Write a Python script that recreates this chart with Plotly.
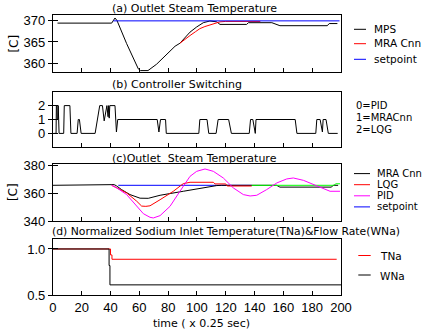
import plotly.graph_objects as go

W, H = 428, 335
FONT = "DejaVu Sans"
TICKFONT = "Liberation Sans"

# ---------------- data ----------------
# (a) Outlet steam temperature
a_mps_t = [3.2, 40.8, 43.1, 44.5, 51.2, 56.0, 59.3, 60.8, 66.0, 72.0, 77.8, 84.8, 88.2, 95.2, 99.8,
           104.4, 109.0, 113.7, 116.0, 134.5, 135.7, 152.0, 157.6, 190.5, 191.8, 197.5]
a_mps_v = [369.4, 369.4, 370.6, 370.0, 364.6, 361.2, 358.7, 358.3, 358.3, 359.8, 361.8, 364.0, 364.7, 367.3, 368.5,
           369.5, 369.9, 369.7, 369.1, 369.1, 369.5, 369.5, 368.8, 368.8, 369.3, 369.3]
a_mra_t = [88.2, 92.0, 95.2, 99.0, 102.0, 105.5, 109.0, 112.5, 116.0, 120.0, 123.0, 144.0]
a_mra_v = [364.7, 365.8, 366.5, 367.4, 368.1, 368.6, 369.0, 369.4, 369.7, 369.8, 369.8, 369.8]
a_sp_t = [42.0, 199.0]
a_sp_v = [369.93, 369.93]

# (b) Controller switching (0=PID, 1=MRACnn, 2=LQG)
b_t = [0.5, 2.2, 2.4, 2.8, 3.0, 3.5, 3.7, 4.3, 7.5, 7.9, 11.8, 12.5, 16.8, 17.6, 18.4, 19.6,
       29.3, 30.8, 31.8, 32.5, 34.4, 35.6, 37.5, 38.3, 38.7, 39.1, 39.5, 43.1, 44.1, 45.0,
       72.4, 73.6, 74.7, 78.2, 78.7, 101.3, 102.0, 107.0, 108.2, 113.3, 114.7, 122.0, 123.9,
       136.3, 137.2, 138.8, 140.5, 141.0, 168.2, 169.4, 182.5, 183.2, 185.5, 187.1, 187.6,
       189.6, 191.2, 197.7]
b_v = [0, 0, 2, 2, 1, 1, 2, 0, 0, 2, 2, 0, 0, 1, 1, 0,
       0, 1, 1.5, 2, 2, 0.9, 2, 1.2, 2, 1.1, 2, 2, 0.1, 1,
       1, 0.1, 1, 1, 0, 0, 1, 1, 0, 0, 1, 1, 0,
       0, 1, 1, 0, 1, 1, 0, 0, 1, 1, 0.1, 1,
       1, 0, 0]

# (c) Outlet steam temperature, comparison
c_mra_t = [0, 40.8, 42.5, 44.0, 47.7, 53.5, 60.5, 66.2, 74.4, 90.5, 106.7, 113.7, 117.0, 155.3, 157.6,
           193.4, 194.5, 198.0]
c_mra_v = [365.8, 365.8, 366.3, 365.5, 362.7, 359.1, 356.5, 356.4, 358.6, 361.5, 364.6, 365.6, 365.8, 365.8,
           364.5, 364.5, 365.8, 365.8]
c_lqg_t = [40.8, 44.3, 51.2, 58.2, 61.6, 64.5, 67.4, 74.4, 83.6, 90.5, 95.2, 111.4, 112.5, 120.0, 121.0, 138.0]
c_lqg_v = [365.8, 363.9, 360.3, 354.3, 350.8, 350.6, 351.0, 355.4, 361.5, 367.0, 368.0, 368.0, 366.8, 366.8,
           365.3, 365.3]
c_pid_t = [40.8, 44.3, 51.2, 58.2, 62.8, 67.4, 69.7, 74.4, 81.3, 88.2, 95.2, 99.8, 105.6, 111.4, 118.3,
           125.3, 132.2, 136.9, 141.5, 148.4, 155.4, 162.3, 166.9, 173.9, 180.8, 187.8, 192.4, 199.3]
c_pid_v = [365.8, 364.0, 359.1, 350.6, 345.3, 342.7, 342.2, 343.9, 350.6, 361.5, 372.3, 375.9, 377.6, 375.9,
           371.1, 363.9, 359.1, 358.1, 358.6, 362.7, 367.5, 370.4, 371.1, 369.4, 366.3, 363.2, 361.5, 361.5]
c_sp_t = [45.4, 138.0]
c_sp_v = [365.8, 365.8]
c_sw_t = [138.0, 195.0, 196.5, 199.3]
c_sw_v = [365.8, 365.8, 366.9, 366.9]

# (d) Normalized sodium inlet temperature and flow rate
d_tna_t = [0, 40.0, 40.0, 41.0, 41.0, 197.0]
d_tna_v = [1.0, 1.0, 0.935, 0.935, 0.888, 0.888]
d_wna_t = [0, 39.0, 39.0, 39.6, 39.6, 200.0]
d_wna_v = [1.0, 1.0, 0.82, 0.82, 0.61, 0.61]

x_ticks = list(range(0, 201, 20))

# ---------------- figure ----------------
def px(x):
    return x / W

def py(y):
    return 1 - y / H

XDOM = [px(52.9), px(341.0)]
panels = {
    1: dict(dom=[py(72.3), py(15.0)], rng=[357.9, 371.3], tv=[360, 365, 370], tt=["360", "365", "370"]),
    2: dict(dom=[py(147.3), py(91.7)], rng=[-1.0, 3.0], tv=[0, 1, 2], tt=["0", "1", "2"]),
    3: dict(dom=[py(221.3), py(164.0)], rng=[339.8, 381.2], tv=[340, 360, 380], tt=["340", "360", "380"]),
    4: dict(dom=[py(295.0), py(239.3)], rng=[0.5, 1.105], tv=[0.5, 1.0], tt=["0.5", "1.0"]),
}

fig = go.Figure()

def line(xs, ys, color, k, yk=None):
    fig.add_trace(go.Scatter(x=xs, y=ys, mode="lines", line=dict(color=color, width=1),
                             xaxis="x" if k == 1 else f"x{k}",
                             yaxis=(yk if yk else ("y" if k == 1 else f"y{k}")),
                             showlegend=False, hoverinfo="skip"))

line(a_mps_t, a_mps_v, "black", 1)
line(a_mra_t, a_mra_v, "#ff0000", 1)
line(a_sp_t, a_sp_v, "#0000ff", 1)

line(b_t, b_v, "black", 2)

line(c_sp_t, c_sp_v, "#0000ff", 3)
line(c_mra_t, c_mra_v, "black", 3)
line(c_lqg_t, c_lqg_v, "#ff0000", 3)
line(c_sw_t, c_sw_v, "#00ff00", 3)
line(c_pid_t, c_pid_v, "#ff00ff", 3)

line(d_tna_t, d_tna_v, "#ff0000", 4)
line(d_wna_t, d_wna_v, "black", 4)

# invisible traces for inside-tick overlay axes
for k in range(1, 5):
    line([], [], "black", k, yk=f"y{k+4}")

tickfont = dict(family=TICKFONT, size=13, color="black")
layout = dict(width=W, height=H, margin=dict(l=0, r=0, t=0, b=0),
              paper_bgcolor="white", plot_bgcolor="white", template="none",
              showlegend=False, font=dict(family=FONT, size=11, color="black"))

for k, p in panels.items():
    xn = "xaxis" if k == 1 else f"xaxis{k}"
    yn = "yaxis" if k == 1 else f"yaxis{k}"
    xa = "x" if k == 1 else f"x{k}"
    ya = "y" if k == 1 else f"y{k}"
    layout[xn] = dict(domain=XDOM, anchor=ya, range=[0, 200], tickvals=x_ticks,
                      ticktext=[str(v) for v in x_ticks], ticks="inside", ticklen=4,
                      tickcolor="black", showticklabels=(k == 4), tickfont=tickfont,
                      showline=True, mirror=True, linecolor="black", linewidth=1,
                      showgrid=False, zeroline=False, automargin=False, fixedrange=True)
    layout[yn] = dict(domain=p["dom"], anchor=xa, range=p["rng"], tickvals=p["tv"],
                      ticktext=p["tt"], ticks="outside", ticklen=4, tickcolor="black",
                      tickfont=tickfont, showline=True, mirror=True, linecolor="black",
                      linewidth=1, showgrid=False, zeroline=False, automargin=False)
    layout[f"yaxis{k+4}"] = dict(overlaying=ya, anchor=xa, range=p["rng"], tickvals=p["tv"],
                                 ticks="inside", ticklen=5, tickcolor="black",
                                 showticklabels=False, showline=False, showgrid=False,
                                 zeroline=False, automargin=False, side="left")

fig.update_layout(**layout)

def text(s, x, y, xanchor="left", size=10.5, angle=0):
    fig.add_annotation(text=s, x=px(x), y=py(y), xref="paper", yref="paper",
                       xanchor=xanchor, yanchor="middle", showarrow=False, textangle=angle,
                       font=dict(family=FONT, size=size, color="black"))

def seg(x0, x1, y, color):
    fig.add_shape(type="line", xref="paper", yref="paper", x0=px(x0), x1=px(x1),
                  y0=py(y), y1=py(y), line=dict(color=color, width=1))

# titles
text("(a) Outlet Steam Temperature", 110, 8.3, size=11)
text("(b) Controller Switching", 110, 84.5, size=11)
text("(c)Outlet  Steam Temperature", 110, 158.3, size=11)
text("(d) Normalized Sodium Inlet Temperature(TNa)&Flow Rate(WNa)", 50, 231.7, size=10.8)
text("time ( x 0.25 sec)", 201, 323, xanchor="center", size=11)
text("[C]", 14, 43.6, xanchor="center", size=12, angle=-90)
text("[C]", 12.5, 192.6, xanchor="center", size=12, angle=-90)

# legend (a)
for lab, col, yy in [("MPS", "black", 29.3), ("MRA Cnn", "#ff0000", 43.7), ("setpoint", "#0000ff", 59.3)]:
    seg(354, 366, yy, col)
    text(lab, 372, yy - 0.5)
# labels (b)
for lab, yy in [("0=PID", 105.7), ("1=MRACnn", 117.8), ("2=LQG", 129.5)]:
    text(lab, 354, yy, size=10)
# legend (c)
for lab, col, yy in [("MRA Cnn", "black", 173.6), ("LQG", "#ff0000", 184.7), ("PID", "#ff00ff", 195.8),
                     ("setpoint", "#0000ff", 206.9)]:
    seg(354, 370, yy, col)
    text(lab, 374.7, yy - 0.5, size=10)
# legend (d)
for lab, col, yy in [("TNa", "#ff0000", 255.5), ("WNa", "black", 275)]:
    seg(358.3, 370.7, yy, col)
    text(lab, 378, yy + 0.5)

fig.write_html("out.html")
